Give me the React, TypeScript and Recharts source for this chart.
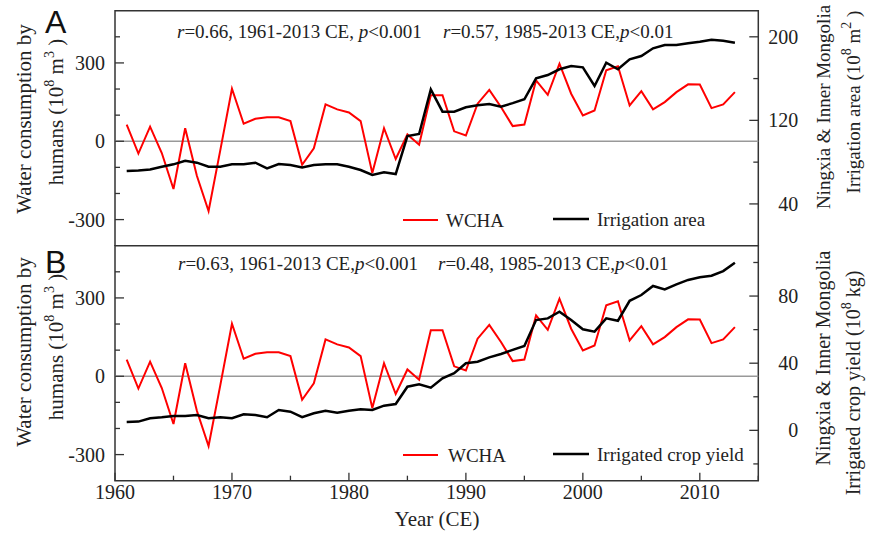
import React from 'react';
import { LineChart, Line, XAxis, YAxis, ReferenceLine, ReferenceArea, Legend } from 'recharts';

const years = [
  1961, 1962, 1963, 1964, 1965, 1966, 1967, 1968, 1969, 1970,
  1971, 1972, 1973, 1974, 1975, 1976, 1977, 1978, 1979, 1980,
  1981, 1982, 1983, 1984, 1985, 1986, 1987, 1988, 1989, 1990,
  1991, 1992, 1993, 1994, 1995, 1996, 1997, 1998, 1999, 2000,
  2001, 2002, 2003, 2004, 2005, 2006, 2007, 2008, 2009, 2010,
  2011, 2012, 2013,
];

const wcha = [
  64, -47, 56, -45, -183, 50, -132, -267, -35, 201,
  67, 86, 92, 92, 77, -90, -27, 141, 122, 110,
  77, -122, 50, -68, 26, -13, 176, 176, 38, 22,
  144, 197, 131, 58, 64, 233, 178, 297, 182, 99,
  118, 272, 287, 137, 192, 122, 150, 188, 218, 217,
  127, 141, 188,
];

const irrigationArea = [
  71.5, 72, 73, 75.6, 77.9, 81.4, 79.5, 75.6, 75.6, 77.9,
  77.9, 79.5, 74.1, 78.2, 77.3, 75, 77.3, 77.9, 77.9, 75.6,
  72.5, 67.7, 70.3, 68.6, 105, 107, 149.7, 128.3, 128.3, 132.5,
  134.4, 135.7, 133.1, 136.5, 140.2, 160.2, 163.4, 168.9, 172, 170.8,
  152.9, 175.2, 168.9, 178.5, 181.6, 189, 192.1, 192.1, 193.8, 195.3,
  197.2, 196.3, 194.4,
];

const cropYield = [
  5, 5.2, 7.2, 7.8, 8.6, 8.6, 9.1, 7.2, 7.8, 7.2,
  9.6, 9.1, 7.8, 12.1, 11.1, 7.8, 10.2, 11.7, 10.5, 11.7,
  12.5, 12.1, 14.7, 15.7, 26, 27.4, 25.4, 31, 34, 40,
  40.9, 43.5, 45.5, 47.9, 50.3, 65.7, 66.7, 70.7, 65.7, 60.2,
  58.8, 66.7, 65.3, 77.2, 80.6, 86, 84, 87, 89.6, 91.2,
  92.1, 94.9, 99.9,
];

const xTicks = [1960, 1965, 1970, 1975, 1980, 1985, 1990, 1995, 2000, 2005, 2010, 2015];
const xLabels = [1960, 1970, 1980, 1990, 2000, 2010];
const leftTicks = [-300, -200, -100, 0, 100, 200, 300, 400];
const leftLabels = [-300, 0, 300];
const areaTicks = [40, 80, 120, 160, 200];
const areaLabels = [40, 120, 200];
const yieldTicks = [-20, 0, 20, 40, 60, 80, 100];
const yieldLabels = [0, 40, 80];

const dataA = years.map((year, i) => ({ year, wcha: wcha[i], area: irrigationArea[i] }));
const dataB = years.map((year, i) => ({ year, wcha: wcha[i], crop: cropYield[i] }));

const SERIF = '"Liberation Serif", "Times New Roman", serif';
const SANS = '"Liberation Sans", Arial, sans-serif';
const AXIS = '#333';

const makeLeftTick = (labels: number[]) => (props: any) => {
  const { x, y, payload } = props;
  const v = payload.value;
  const major = labels.includes(v);
  return (
    <g>
      <line x1={x} x2={x + (major ? 9 : 5)} y1={y} y2={y} stroke={AXIS} strokeWidth={1.3} />
      {major && (
        <text x={x - 10} y={y} dy="0.35em" textAnchor="end" fontFamily={SERIF} fontSize={20} fill="#222">
          {`${v}`}
        </text>
      )}
    </g>
  );
};

const makeRightTick = (labels: number[]) => (props: any) => {
  const { x, y, payload } = props;
  const v = payload.value;
  const major = labels.includes(v);
  return (
    <g>
      <line x1={x - (major ? 9 : 5)} x2={x} y1={y} y2={y} stroke={AXIS} strokeWidth={1.3} />
      {major && (
        <text x={x + 40} y={y} dy="0.35em" textAnchor="end" fontFamily={SERIF} fontSize={20} fill="#222">
          {`${v}`}
        </text>
      )}
    </g>
  );
};

const makeXTick = (showLabels: boolean) => (props: any) => {
  const { x, y, payload } = props;
  const v = payload.value;
  const major = xLabels.includes(v);
  return (
    <g>
      <line x1={x} x2={x} y1={y} y2={y - (major ? 8 : 5)} stroke={AXIS} strokeWidth={1.3} />
      {showLabels && major && (
        <text x={x} y={y + 18} textAnchor="middle" fontFamily={SERIF} fontSize={20} fill="#222">
          {`${v}`}
        </text>
      )}
    </g>
  );
};

const makeLegend = (blackLabel: string, wchaTextX: number) => () => (
  <svg width={874} height={30} style={{ overflow: 'visible' }}>
    <line x1={403} x2={438} y1={15} y2={15} stroke="#ff0000" strokeWidth={2} />
    <text x={wchaTextX} y={15} dy="0.35em" fontFamily={SERIF} fontSize={19} fill="#222">WCHA</text>
    <line x1={553} x2={589} y1={14} y2={14} stroke="#000" strokeWidth={2.5} />
    <text x={597} y={14} dy="0.35em" fontFamily={SERIF} fontSize={19} fill="#222">{blackLabel}</text>
  </svg>
);

const legendStyle = { position: 'absolute' as const, left: 0, top: 205, width: 874, height: 30 };

function Panel({ data, rightKey, rightDomain, rightTicks, rightLabels, height, bottomMargin, xHeight, showXLabels, legendLabel, wchaTextX }: any) {
  return (
    <LineChart width={874} height={height} data={data} margin={{ top: 10.7, right: 0, bottom: bottomMargin, left: 0 }}>
      <XAxis
        dataKey="year"
        type="number"
        domain={[1960, 2015]}
        ticks={xTicks}
        interval={0}
        height={xHeight}
        axisLine={false}
        tickLine={false}
        tickSize={0}
        tickMargin={0}
        tick={makeXTick(showXLabels)}
        allowDataOverflow
      />
      <YAxis
        yAxisId="left"
        orientation="left"
        width={115}
        type="number"
        domain={[-400, 500]}
        ticks={leftTicks}
        interval={0}
        axisLine={false}
        tickLine={false}
        tickSize={0}
        tickMargin={0}
        tick={makeLeftTick(leftLabels)}
        allowDataOverflow
      />
      <YAxis
        yAxisId="right"
        orientation="right"
        width={115.7}
        type="number"
        domain={rightDomain}
        ticks={rightTicks}
        interval={0}
        axisLine={false}
        tickLine={false}
        tickSize={0}
        tickMargin={0}
        tick={makeRightTick(rightLabels)}
        allowDataOverflow
      />
      <ReferenceLine yAxisId="left" y={0} stroke="#999" strokeWidth={1.5} />
      <Line yAxisId="left" type="linear" dataKey="wcha" stroke="#ff0000" strokeWidth={2} dot={false} isAnimationActive={false} />
      <Line yAxisId="right" type="linear" dataKey={rightKey} stroke="#000" strokeWidth={2.5} dot={false} isAnimationActive={false} />
      <ReferenceArea yAxisId="left" x1={1960} x2={2015} y1={-400} y2={500} fill="none" fillOpacity={0} stroke={AXIS} strokeWidth={1.5} />
      <Legend layout="horizontal" verticalAlign="middle" content={makeLegend(legendLabel, wchaTextX)} wrapperStyle={legendStyle} />
    </LineChart>
  );
}

const Sup = ({ children }: any) => (
  <>
    <tspan dy={-9} fontSize={14}>{children}</tspan>
    <tspan dy={9}> </tspan>
  </>
);

function RotText({ cx, cy, size, children }: any) {
  return (
    <text
      transform={`translate(${cx},${cy}) rotate(-90)`}
      textAnchor="middle"
      dy="0.35em"
      fontFamily={SERIF}
      fontSize={size}
      fill="#222"
    >
      {children}
    </text>
  );
}

export default function App() {
  return (
    <div style={{ position: 'absolute', left: 0, top: 0, width: 874, height: 538, background: '#fff' }}>
      <div style={{ position: 'absolute', left: 0, top: 0 }}>
        <Panel
          data={dataA}
          rightKey="area"
          rightDomain={[0, 225]}
          rightTicks={areaTicks}
          rightLabels={areaLabels}
          height={246}
          bottomMargin={0.3}
          xHeight={0}
          showXLabels={false}
          legendLabel="Irrigation area"
          wchaTextX={446}
        />
      </div>
      <div style={{ position: 'absolute', left: 0, top: 235 }}>
        <Panel
          data={dataB}
          rightKey="crop"
          rightDomain={[-30, 110]}
          rightTicks={yieldTicks}
          rightLabels={yieldLabels}
          height={303}
          bottomMargin={0}
          xHeight={57.3}
          showXLabels={true}
          legendLabel="Irrigated crop yield"
          wchaTextX={448}
        />
      </div>
      <svg width={874} height={538} style={{ position: 'absolute', left: 0, top: 0, pointerEvents: 'none' }}>
        <text x={45} y={33} fontFamily={SANS} fontSize={32} fill="#111">A</text>
        <text x={45} y={273} fontFamily={SANS} fontSize={32} fill="#111">B</text>

        <text x={177} y={38} fontFamily={SERIF} fontSize={19} fill="#222">
          <tspan fontStyle="italic">r</tspan>=0.66, 1961-2013 CE, <tspan fontStyle="italic">p</tspan>&lt;0.001
        </text>
        <text x={443} y={38} fontFamily={SERIF} fontSize={19} fill="#222">
          <tspan fontStyle="italic">r</tspan>=0.57, 1985-2013 CE,<tspan fontStyle="italic">p</tspan>&lt;0.01
        </text>
        <text x={178} y={270} fontFamily={SERIF} fontSize={19} fill="#222">
          <tspan fontStyle="italic">r</tspan>=0.63, 1961-2013 CE,<tspan fontStyle="italic">p</tspan>&lt;0.001
        </text>
        <text x={438} y={270} fontFamily={SERIF} fontSize={19} fill="#222">
          <tspan fontStyle="italic">r</tspan>=0.48, 1985-2013 CE,<tspan fontStyle="italic">p</tspan>&lt;0.01
        </text>

        <RotText cx={24} cy={119} size={21}>Water consumption by</RotText>
        <RotText cx={56} cy={112} size={21}>humans (10<Sup>8</Sup>m<Sup>3</Sup>)</RotText>
        <RotText cx={24} cy={352} size={21}>Water consumption by</RotText>
        <RotText cx={56} cy={347} size={21}>humans (10<Sup>8</Sup>m<Sup>3</Sup>)</RotText>

        <RotText cx={823} cy={107} size={19}>Ningxia &amp; Inner Mongolia</RotText>
        <RotText cx={853} cy={102} size={19}>Irrigation area (10<Sup>8</Sup>m<Sup>2</Sup>)</RotText>
        <RotText cx={823} cy={358} size={20}>Ningxia &amp; Inner Mongolia</RotText>
        <RotText cx={853} cy={383} size={20}>Irrigated crop yield (10<Sup>8</Sup>kg)</RotText>

        <text x={437} y={526} textAnchor="middle" fontFamily={SERIF} fontSize={21} fill="#222">Year (CE)</text>
      </svg>
    </div>
  );
}
